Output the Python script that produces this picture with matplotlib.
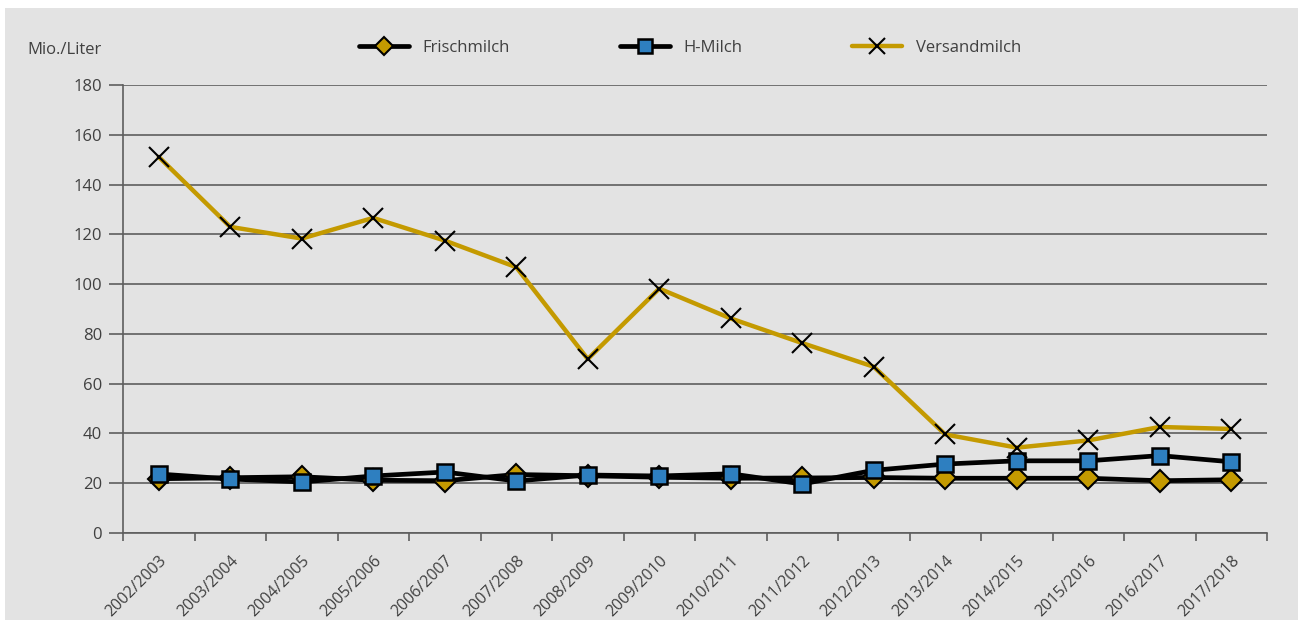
import numpy as np
import matplotlib
matplotlib.use("Agg")
from matplotlib import pyplot as plt
from matplotlib.patches import Rectangle

plt.rcParams['font.family'] = ['Open Sans', 'DejaVu Sans']

years = ["2002/2003", "2003/2004", "2004/2005", "2005/2006", "2006/2007", "2007/2008",
         "2008/2009", "2009/2010", "2010/2011", "2011/2012", "2012/2013", "2013/2014",
         "2014/2015", "2015/2016", "2016/2017", "2017/2018"]
frischmilch = [21.8, 22.2, 22.6, 21.2, 21.0, 23.5, 23.0, 22.4, 22.0, 22.1, 22.3, 22.0,
               22.0, 22.0, 21.0, 21.4]
h_milch = [23.7, 21.7, 20.5, 22.9, 24.5, 20.9, 23.3, 22.9, 23.8, 19.7, 25.2, 27.7,
           29.0, 29.0, 31.1, 28.6]
versandmilch = [151.1, 123.0, 118.3, 126.6, 117.5, 106.8, 69.9, 98.2, 86.2, 76.3, 66.8,
                39.6, 34.3, 37.2, 42.6, 41.8]

W, H = 1304, 628
fig = plt.figure(figsize=(W / 100, H / 100), dpi=100, facecolor="white")
bg = "#e3e3e3"
fig.patches.append(Rectangle((5 / W, 1 - 620 / H), (1298 - 5) / W, (620 - 8) / H,
                             transform=fig.transFigure, facecolor=bg, edgecolor="none", zorder=-5))

ax = fig.add_axes([123 / W, (H - 533) / H, (1267 - 123) / W, (533 - 85) / H])
ax.set_facecolor(bg)

x = np.arange(len(years))
gold = "#c49a00"
blue = "#2e7fc0"
txt = "#404040"
grid = "#5e5e5e"

ax.plot(x, frischmilch, color="black", lw=3.4, marker="D", ms=11, mfc=gold, mec="black",
        mew=1.5, label="Frischmilch", zorder=3, solid_capstyle="round")
ax.plot(x, h_milch, color="black", lw=3.4, marker="s", ms=12, mfc=blue, mec="black",
        mew=1.8, label="H-Milch", zorder=4, solid_capstyle="round")
ax.plot(x, versandmilch, color=gold, lw=3.2, marker="x", ms=14, mec="black", mew=1.5,
        label="Versandmilch", zorder=5, solid_capstyle="round")

ax.set_xlim(-0.5, len(years) - 0.5)
ax.set_ylim(0, 180)
ax.set_yticks(np.arange(0, 181, 20))
ax.yaxis.grid(True, color=grid, lw=1.2)
ax.set_axisbelow(True)
ax.tick_params(axis="y", length=10, width=1.2, color=grid, labelsize=12, labelcolor=txt, pad=5)

ax.set_xticks(x)
ax.set_xticklabels(years, rotation=45, ha="right", rotation_mode="anchor")
ax.set_xticks(np.arange(-0.5, len(years)), minor=True)
ax.tick_params(axis="x", which="major", length=0, labelsize=11.5, labelcolor=txt, pad=14)
ax.tick_params(axis="x", which="minor", length=6, width=1.2, color=grid)

for s in ["top", "right"]:
    ax.spines[s].set_visible(False)
for s in ["left", "bottom"]:
    ax.spines[s].set_color(grid)
    ax.spines[s].set_linewidth(1.2)

fig.text(27 / W, 1 - 50 / H, "Mio./Liter", ha="left", va="center", fontsize=12, color=txt)

leg = fig.legend(loc="center", bbox_to_anchor=(690 / W, 1 - 48 / H), ncol=3, frameon=False,
                 numpoints=1, handlelength=3.0, handletextpad=0.8, columnspacing=6.6,
                 markerscale=0.85, fontsize=12, labelcolor=txt)

fig.savefig("out.png", dpi=100, facecolor="white")
